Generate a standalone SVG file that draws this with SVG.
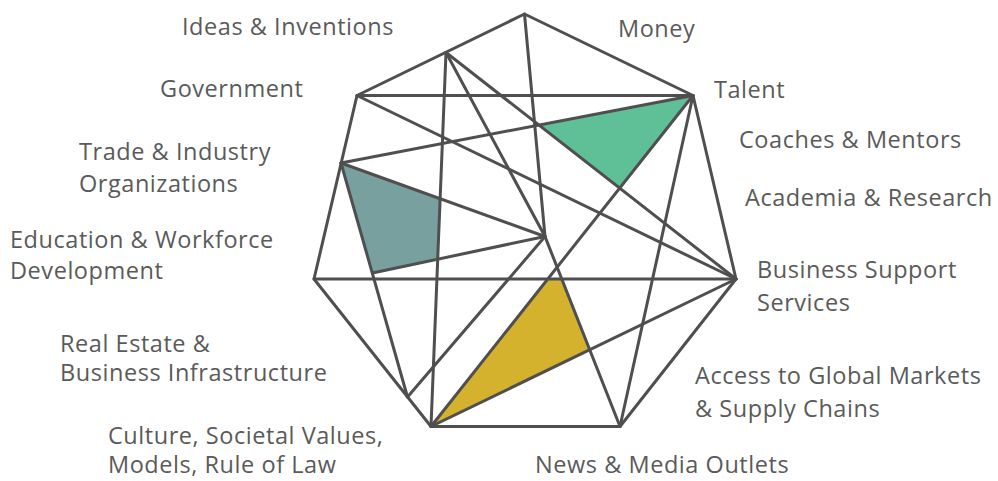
<svg xmlns="http://www.w3.org/2000/svg" width="998" height="481" viewBox="0 0 998 481">
<style>
.lbl{font-family:"Open Sans","Noto Sans","Liberation Sans",sans-serif;font-size:23.5px;letter-spacing:0.55px;fill:#5a5a5a}
.ln{stroke:#4f4f4f;stroke-width:3;fill:none;stroke-linecap:round;stroke-linejoin:round}
</style>
<rect width="998" height="481" fill="#ffffff"/>
<g id="regions">
<polygon points="539.2,125.3 693,95.5 619.8,188.3" fill="#5fbf97"/>
<polygon points="341,163 440.1,198.7 437.7,259.2 372.5,273" fill="#77a09f"/>
<polygon points="547.9,279 561.8,279 589.7,349.8 431,426.5" fill="#d4b22d"/>
</g>
<g id="connectors" class="ln">
<polygon points="524.5,14 693,95.5 736,279 620,426.5 431,426.5 314,279 357,95.5"/>
<line x1="357" y1="95.5" x2="693" y2="95.5"/>
<line x1="357" y1="95.5" x2="736" y2="279"/>
<line x1="314" y1="279" x2="736" y2="279"/>
<line x1="446" y1="52.5" x2="431" y2="426.5"/>
<line x1="446" y1="52.5" x2="545" y2="236.5"/>
<line x1="446" y1="52.5" x2="736" y2="279"/>
<line x1="524.5" y1="14" x2="545" y2="236.5"/>
<line x1="341" y1="163" x2="693" y2="95.5"/>
<line x1="341" y1="163" x2="545" y2="236.5"/>
<line x1="341" y1="163" x2="407.5" y2="397"/>
<line x1="372.5" y1="273" x2="545" y2="236.5"/>
<line x1="407.5" y1="397" x2="545" y2="236.5"/>
<line x1="545" y1="236.5" x2="620" y2="426.5"/>
<line x1="693" y1="95.5" x2="431" y2="426.5"/>
<line x1="693" y1="95.5" x2="620" y2="426.5"/>
<line x1="431" y1="426.5" x2="736" y2="279"/>
</g>
<g id="ideas"><text class="lbl" x="182" y="35">Ideas &amp; Inventions</text></g>
<g id="money"><text class="lbl" x="618" y="37">Money</text></g>
<g id="talent"><text class="lbl" x="714" y="98">Talent</text></g>
<g id="coaches"><text class="lbl" x="739" y="148">Coaches &amp; Mentors</text></g>
<g id="academia"><text class="lbl" x="745" y="206">Academia &amp; Research</text></g>
<g id="business-support"><text class="lbl" x="757" y="278">Business Support</text><text class="lbl" x="757" y="311">Services</text></g>
<g id="global-markets"><text class="lbl" x="695" y="384">Access to Global Markets</text><text class="lbl" x="695" y="417">&amp; Supply Chains</text></g>
<g id="news"><text class="lbl" x="535" y="473">News &amp; Media Outlets</text></g>
<g id="culture"><text class="lbl" x="108" y="444">Culture, Societal Values,</text><text class="lbl" x="108" y="473">Models, Rule of Law</text></g>
<g id="real-estate"><text class="lbl" x="60" y="352">Real Estate &amp;</text><text class="lbl" x="60" y="381">Business Infrastructure</text></g>
<g id="education"><text class="lbl" x="10" y="248">Education &amp; Workforce</text><text class="lbl" x="10" y="279">Development</text></g>
<g id="trade"><text class="lbl" x="79" y="160">Trade &amp; Industry</text><text class="lbl" x="79" y="192">Organizations</text></g>
<g id="government"><text class="lbl" x="160" y="97">Government</text></g>
</svg>
